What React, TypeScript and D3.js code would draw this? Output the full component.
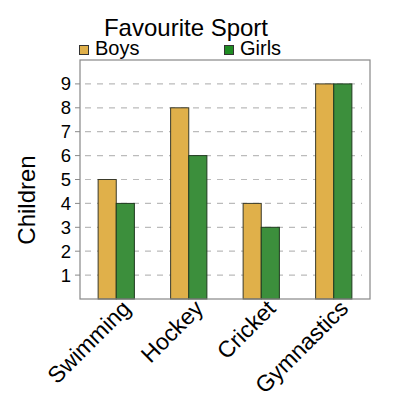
import React from "react";
import * as d3 from "d3";

const categories = ["Swimming", "Hockey", "Cricket", "Gymnastics"];
const boys = [5, 8, 4, 9];
const girls = [4, 6, 3, 9];
const yTicks = [1, 2, 3, 4, 5, 6, 7, 8, 9];
const seriesNames = ["Boys", "Girls"];

const W = 400, H = 400;
const left = 80, right = 370, top = 60, bottom = 299;
const font = "Liberation Sans, Arial, sans-serif";
const boyColor = "#e0b04a";
const girlColor = "#3c8f3c";
const legendGirl = "#1f8c23";

export default function App() {
  const x = d3.scaleBand<string>().domain(categories).range([left, right]).paddingInner(0).paddingOuter(0);
  const y = d3.scaleLinear().domain([0, 10]).range([bottom, top]);
  const bw = x.bandwidth() / 4;
  return (
    <svg width={W} height={H} style={{ position: "absolute", left: 0, top: 0, fontFamily: font }}>
      <rect x={0} y={0} width={W} height={H} fill="#fff" />
      <text x={186} y={36} fontSize={24} textAnchor="middle" fill="#000">Favourite Sport</text>
      <rect x={79.5} y={45.5} width={9} height={9} fill={boyColor} stroke="#333" strokeWidth={1} />
      <text x={95} y={55} fontSize={20} fill="#000">{seriesNames[0]}</text>
      <rect x={224.5} y={45.5} width={9} height={9} fill={legendGirl} stroke="#333" strokeWidth={1} />
      <text x={240} y={55} fontSize={20} fill="#000">{seriesNames[1]}</text>
      {yTicks.map((t) => (
        <g key={t}>
          <line x1={85} x2={362} y1={y(t)} y2={y(t)} stroke="#bbb" strokeWidth={1.2} strokeDasharray="6,6" />
          <line x1={75} x2={80} y1={y(t)} y2={y(t)} stroke="#888" strokeWidth={1} />
          <text x={71} y={y(t) + 6.5} fontSize={18.5} textAnchor="end" fill="#000">{t}</text>
        </g>
      ))}
      {categories.map((c, i) => {
        const cx = (x(c) as number) + x.bandwidth() / 2;
        return (
          <g key={c}>
            <rect x={cx - bw} y={y(boys[i])} width={bw} height={bottom - y(boys[i])} fill={boyColor} stroke="#3a3a2a" strokeWidth={1} />
            <rect x={cx} y={y(girls[i])} width={bw} height={bottom - y(girls[i])} fill={girlColor} stroke="#1f3a1f" strokeWidth={1} />
            <text transform={`translate(${cx + 4},${bottom - 1}) rotate(-45)`} fontSize={23} textAnchor="end" dominantBaseline="hanging" fill="#000">{c}</text>
          </g>
        );
      })}
      <rect x={left} y={top} width={right - left} height={bottom - top} fill="none" stroke="#888" strokeWidth={1.2} />
      <text transform={`translate(35,200) rotate(-90)`} fontSize={24} textAnchor="middle" fill="#000">Children</text>
    </svg>
  );
}
